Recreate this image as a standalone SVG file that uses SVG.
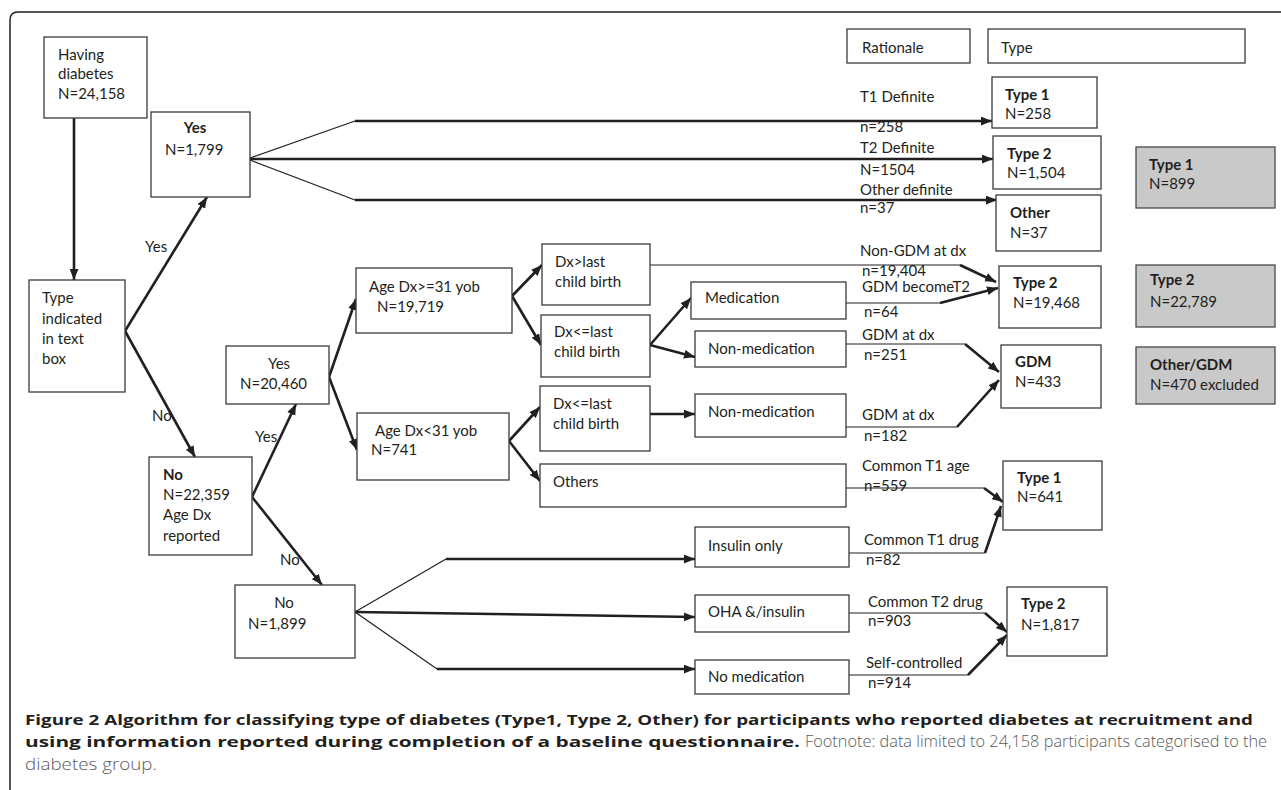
<svg xmlns="http://www.w3.org/2000/svg" width="1281" height="790" viewBox="0 0 1281 790">
<defs>
<style>
.box{fill:#fff;stroke:#3a3a3a;stroke-width:1.3}
.gbox{fill:#c9c9c9;stroke:#4a4a4a;stroke-width:1.3}
.t{font-family:Lato,"Liberation Sans",sans-serif;font-size:15px;fill:#231f20}
.b{font-weight:bold}
.thick{fill:none;stroke:#231f20;stroke-width:2.6}
.thin{fill:none;stroke:#231f20;stroke-width:1.2}
.arr{marker-end:url(#ah)}
.cap{font-family:"Open Sans","Liberation Sans",sans-serif;font-size:15px;fill:#231f20}
.foot{font-family:"Open Sans","Liberation Sans",sans-serif;font-size:15.5px;font-weight:300;fill:#5a5a5c}
</style>
<marker id="ah" viewBox="0 0 10 8" refX="10" refY="4" markerWidth="11" markerHeight="9" markerUnits="userSpaceOnUse" orient="auto">
<path d="M0,0 L10,4 L0,8 z" fill="#231f20"/>
</marker>
</defs>
<rect width="1281" height="790" fill="#fff"/>
<path d="M10,790 V20 Q10,12 18,12 H1281" fill="none" stroke="#231f20" stroke-width="1.5"/>

<g id="connectors">
<path class="thick arr" d="M74,118 V280"/>
<path class="thick arr" d="M125,331 L207,197"/>
<path class="thick arr" d="M125,331 L195,457"/>
<path class="thick arr" d="M252,497 L296,404"/>
<path class="thick arr" d="M252,497 L322,585"/>
<path class="thick arr" d="M329,377 L356,299"/>
<path class="thick arr" d="M329,377 L357,450"/>
<path class="thick arr" d="M512,296 L542,265"/>
<path class="thick arr" d="M512,296 L541,345"/>
<path class="thick arr" d="M509,441 L540,407"/>
<path class="thick arr" d="M509,441 L540,481"/>
<path class="thick arr" d="M650,345 L691,298"/>
<path class="thick arr" d="M650,345 L695,357"/>
<path class="thick arr" d="M650,414 L695,414"/>
<path class="thin" d="M250,158 L355,121"/>
<path class="thick arr" d="M355,121 H992"/>
<path class="thick arr" d="M250,159 H993"/>
<path class="thin" d="M250,160 L355,200"/>
<path class="thick arr" d="M355,200 H997"/>
<path class="thin" d="M650,265 H960"/>
<path class="thick arr" d="M960,265 L996,282"/>
<path class="thin" d="M846,303 H940"/>
<path class="thick arr" d="M940,303 L998,288"/>
<path class="thin" d="M846,344 H965"/>
<path class="thick arr" d="M965,344 L999,372"/>
<path class="thin" d="M846,427 H957"/>
<path class="thick arr" d="M957,427 L999,380"/>
<path class="thin" d="M846,488 H984"/>
<path class="thick arr" d="M984,488 L1003,502"/>
<path class="thin" d="M849,553 H985"/>
<path class="thick arr" d="M985,553 L1001,506"/>
<path class="thin" d="M355,612 L446,559"/>
<path class="thick arr" d="M446,559 H695"/>
<path class="thick arr" d="M355,612 L695,617"/>
<path class="thin" d="M355,612 L437,669"/>
<path class="thick arr" d="M437,669 H695"/>
<path class="thin" d="M849,613 H985"/>
<path class="thick arr" d="M985,613 L1007,632"/>
<path class="thin" d="M849,675 H968"/>
<path class="thick arr" d="M968,675 L1007,635"/>
<text class="t" x="145" y="252">Yes</text>
<text class="t" x="152" y="421">No</text>
<text class="t" x="255" y="442">Yes</text>
<text class="t" x="280" y="565">No</text>
<text class="t" x="860" y="102">T1 Definite</text>
<text class="t" x="860" y="132">n=258</text>
<text class="t" x="860" y="153">T2 Definite</text>
<text class="t" x="860" y="175">N=1504</text>
<text class="t" x="860" y="195">Other definite</text>
<text class="t" x="860" y="213">n=37</text>
<text class="t" x="860" y="256">Non-GDM at dx</text>
<text class="t" x="862" y="276">n=19,404</text>
<text class="t" x="862" y="292">GDM becomeT2</text>
<text class="t" x="864" y="317">n=64</text>
<text class="t" x="862" y="340">GDM at dx</text>
<text class="t" x="864" y="360">n=251</text>
<text class="t" x="862" y="420">GDM at dx</text>
<text class="t" x="864" y="441">n=182</text>
<text class="t" x="862" y="471">Common T1 age</text>
<text class="t" x="864" y="491">n=559</text>
<text class="t" x="864" y="545">Common T1 drug</text>
<text class="t" x="866" y="565">n=82</text>
<text class="t" x="868" y="607">Common T2 drug</text>
<text class="t" x="868" y="626">n=903</text>
<text class="t" x="866" y="668">Self-controlled</text>
<text class="t" x="868" y="688">n=914</text>
</g>

<g id="having"><rect class="box" x="44" y="37" width="103" height="81"/><text class="t" x="58" y="60">Having</text><text class="t" x="58" y="79">diabetes</text><text class="t" x="58" y="99">N=24,158</text></g>
<g id="yes1799"><rect class="box" x="151" y="112" width="99" height="85"/><text class="t b" x="195" y="133" text-anchor="middle">Yes</text><text class="t" x="165" y="155">N=1,799</text></g>
<g id="typeIndicated"><rect class="box" x="29" y="280" width="96" height="112"/><text class="t" x="42" y="303">Type</text><text class="t" x="42" y="324">indicated</text><text class="t" x="42" y="344">in text</text><text class="t" x="42" y="364">box</text></g>
<g id="no22359"><rect class="box" x="149" y="457" width="103" height="98"/><text class="t b" x="163" y="480">No</text><text class="t" x="163" y="500">N=22,359</text><text class="t" x="163" y="520">Age Dx</text><text class="t" x="163" y="541">reported</text></g>
<g id="yes20460"><rect class="box" x="226" y="346" width="103" height="58"/><text class="t" x="279" y="369" text-anchor="middle">Yes</text><text class="t" x="240" y="389">N=20,460</text></g>
<g id="no1899"><rect class="box" x="235" y="585" width="120" height="73"/><text class="t" x="284" y="608" text-anchor="middle">No</text><text class="t" x="248" y="629">N=1,899</text></g>
<g id="ageGe31"><rect class="box" x="356" y="268" width="156" height="65"/><text class="t" x="369" y="292">Age Dx&gt;=31 yob</text><text class="t" x="377" y="312">N=19,719</text></g>
<g id="ageLt31"><rect class="box" x="357" y="413" width="152" height="67"/><text class="t" x="375" y="436">Age Dx&lt;31 yob</text><text class="t" x="371" y="455">N=741</text></g>
<g id="dxGtLast"><rect class="box" x="542" y="244" width="108" height="61"/><text class="t" x="555" y="267">Dx&gt;last</text><text class="t" x="555" y="287">child birth</text></g>
<g id="dxLeLast1"><rect class="box" x="541" y="315" width="109" height="62"/><text class="t" x="554" y="337">Dx&lt;=last</text><text class="t" x="554" y="357">child birth</text></g>
<g id="dxLeLast2"><rect class="box" x="540" y="386" width="110" height="65"/><text class="t" x="553" y="409">Dx&lt;=last</text><text class="t" x="553" y="429">child birth</text></g>
<g id="medication"><rect class="box" x="691" y="282" width="155" height="37"/><text class="t" x="705" y="303">Medication</text></g>
<g id="nonMed1"><rect class="box" x="695" y="331" width="151" height="36"/><text class="t" x="708" y="354">Non-medication</text></g>
<g id="nonMed2"><rect class="box" x="695" y="394" width="151" height="43"/><text class="t" x="708" y="417">Non-medication</text></g>
<g id="others"><rect class="box" x="540" y="464" width="306" height="43"/><text class="t" x="553" y="487">Others</text></g>
<g id="insulinOnly"><rect class="box" x="695" y="527" width="154" height="40"/><text class="t" x="708" y="551">Insulin only</text></g>
<g id="oha"><rect class="box" x="695" y="595" width="154" height="37"/><text class="t" x="708" y="617">OHA &amp;/insulin</text></g>
<g id="noMedication"><rect class="box" x="695" y="660" width="154" height="34"/><text class="t" x="708" y="682">No medication</text></g>
<g id="rationale"><rect class="box" x="847" y="29" width="123" height="34"/><text class="t" x="862" y="53">Rationale</text></g>
<g id="typeHeader"><rect class="box" x="988" y="29" width="257" height="34"/><text class="t" x="1001" y="53">Type</text></g>
<g id="type1_258"><rect class="box" x="992" y="77" width="105" height="51"/><text class="t b" x="1005" y="100">Type 1</text><text class="t" x="1005" y="119">N=258</text></g>
<g id="type2_1504"><rect class="box" x="993" y="136" width="108" height="53"/><text class="t b" x="1007" y="159">Type 2</text><text class="t" x="1007" y="178">N=1,504</text></g>
<g id="other37"><rect class="box" x="996" y="195" width="105" height="56"/><text class="t b" x="1010" y="218">Other</text><text class="t" x="1010" y="238">N=37</text></g>
<g id="type2_19468"><rect class="box" x="999" y="266" width="102" height="62"/><text class="t b" x="1013" y="288">Type 2</text><text class="t" x="1013" y="308">N=19,468</text></g>
<g id="gdm433"><rect class="box" x="1001" y="345" width="100" height="63"/><text class="t b" x="1015" y="367">GDM</text><text class="t" x="1015" y="387">N=433</text></g>
<g id="type1_641"><rect class="box" x="1003" y="461" width="99" height="69"/><text class="t b" x="1017" y="483">Type 1</text><text class="t" x="1017" y="502">N=641</text></g>
<g id="type2_1817"><rect class="box" x="1007" y="587" width="100" height="69"/><text class="t b" x="1021" y="609">Type 2</text><text class="t" x="1021" y="630">N=1,817</text></g>
<g id="totalType1"><rect class="gbox" x="1136" y="147" width="139" height="61"/><text class="t b" x="1149" y="170">Type 1</text><text class="t" x="1149" y="189">N=899</text></g>
<g id="totalType2"><rect class="gbox" x="1136" y="265" width="139" height="62"/><text class="t b" x="1150" y="285">Type 2</text><text class="t" x="1150" y="307">N=22,789</text></g>
<g id="totalOther"><rect class="gbox" x="1136" y="347" width="139" height="57"/><text class="t b" x="1150" y="370">Other/GDM</text><text class="t" x="1150" y="390">N=470 excluded</text></g>

<g id="caption">
<text class="cap b" x="25" y="725" textLength="1228" lengthAdjust="spacingAndGlyphs">Figure 2 Algorithm for classifying type of diabetes (Type1, Type 2, Other) for participants who reported diabetes at recruitment and</text>
<text class="cap b" x="25" y="747" textLength="775" lengthAdjust="spacingAndGlyphs">using information reported during completion of a baseline questionnaire.</text>
<text class="foot" x="805" y="747" textLength="462" lengthAdjust="spacingAndGlyphs">Footnote: data limited to 24,158 participants categorised to the</text>
<text class="foot" x="25" y="770" textLength="132" lengthAdjust="spacingAndGlyphs">diabetes group.</text>
</g>
</svg>
